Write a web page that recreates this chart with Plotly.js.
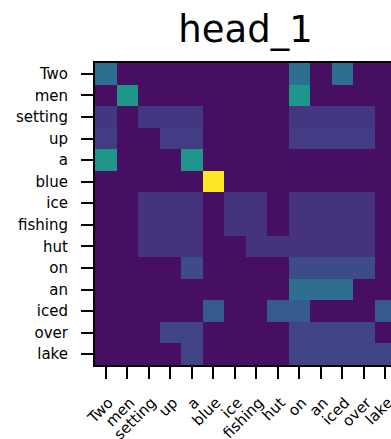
<!DOCTYPE html>
<html>
<head>
<meta charset="utf-8">
<script src="https://cdn.plot.ly/plotly-3.0.1.min.js"></script>
<style>
html,body{margin:0;padding:0;overflow:hidden;background:#fff;}
#chart{width:400px;height:439px;}
</style>
</head>
<body>
<div id="chart"></div>
<script>
const tokens = ["Two","men","setting","up","a","blue","ice","fishing","hut","on","an","iced","over","lake"];
const chartTitle = "head_1";
// attention weights (rows = query token, columns = key token)
const rowTwo     = [0.333,0,0,0,0,0,0,0,0,0.333,0,0.333,0,0];
const rowMen     = [0,0.5,0,0,0,0,0,0,0,0.5,0,0,0,0];
const rowSetting = [0.125,0,0.125,0.125,0.125,0,0,0,0,0.125,0.125,0.125,0.125,0];
const rowUp      = [0.143,0,0,0.143,0.143,0,0,0,0,0.143,0.143,0.143,0.143,0];
const rowA       = [0.5,0,0,0,0.5,0,0,0,0,0,0,0,0,0];
const rowBlue    = [0,0,0,0,0,1,0,0,0,0,0,0,0,0];
const rowIce     = [0,0,0.111,0.111,0.111,0,0.111,0.111,0,0.111,0.111,0.111,0.111,0];
const rowFishing = [0,0,0.111,0.111,0.111,0,0.111,0.111,0,0.111,0.111,0.111,0.111,0];
const rowHut     = [0,0,0.111,0.111,0.111,0,0,0.111,0.111,0.111,0.111,0.111,0.111,0];
const rowOn      = [0,0,0,0,0.2,0,0,0,0,0.2,0.2,0.2,0.2,0];
const rowAn      = [0,0,0,0,0,0,0,0,0,0.333,0.333,0.333,0,0];
const rowIced    = [0,0,0,0,0,0.25,0,0,0.25,0.25,0,0,0,0.25];
const rowOver    = [0,0,0,0.167,0.167,0,0,0,0,0.167,0.167,0.167,0.167,0];
const rowLake    = [0,0,0,0,0.167,0,0,0,0,0.167,0.167,0.167,0.167,0.167];

const z = [rowTwo,rowMen,rowSetting,rowUp,rowA,rowBlue,rowIce,rowFishing,rowHut,rowOn,rowAn,rowIced,rowOver,rowLake];

const font = "DejaVu Sans, sans-serif";
const axisCommon = {
  showline:true, mirror:true, linecolor:"#000", linewidth:2,
  ticks:"outside", ticklen:12, tickwidth:2, tickcolor:"#000",
  showgrid:false, zeroline:false,
  tickfont:{family:font, size:15, color:"#000"},
  type:"category"
};

Plotly.newPlot("chart", [{
  type:"heatmap",
  x: tokens, y: tokens, z: z,
  colorscale:"Viridis", zmin:-0.04, zmax:1, showscale:false
}], {
  width:400, height:439,
  margin:{l:95, r:4, t:63, b:74},
  paper_bgcolor:"#fff", plot_bgcolor:"#fff",
  title:{text:chartTitle, font:{family:font, size:37, color:"#000"},
         xref:"paper", x:0.5, xanchor:"center", yref:"container", y:1-29/439, yanchor:"middle"},
  xaxis:Object.assign({}, axisCommon, {tickangle:-45, ticklabelstandoff:9, ticklabelshift:3}),
  yaxis:Object.assign({}, axisCommon, {autorange:"reversed", ticklabelstandoff:10})
}, {staticPlot:true});
</script>
</body>
</html>
